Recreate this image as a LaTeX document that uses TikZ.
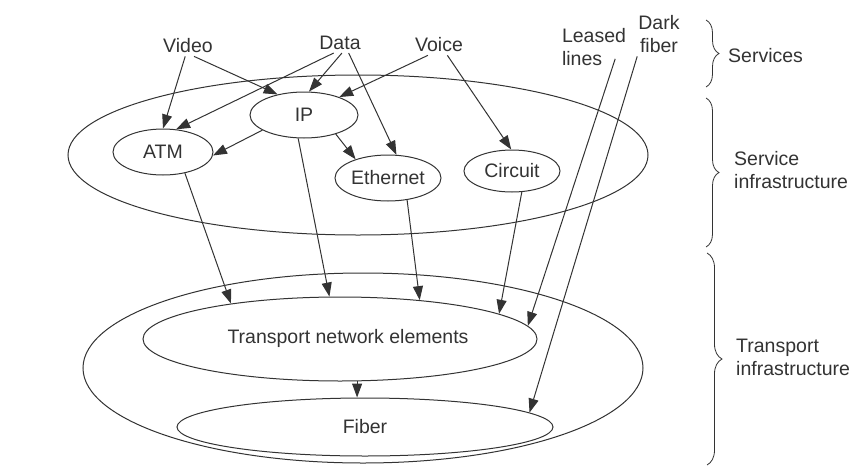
\documentclass[tikz,border=0pt]{standalone}
\usepackage{fontspec}
\setmainfont{Liberation Sans}
\usetikzlibrary{arrows.meta,shapes.geometric,decorations.pathreplacing}
\definecolor{ink}{HTML}{333333}
\begin{document}
\begin{tikzpicture}[x=1pt,y=-1pt,
  every node/.style={font=\fontsize{19.5}{23}\selectfont, text=ink, inner sep=3pt},
  oval/.style={draw=ink, line width=1pt, ellipse, inner sep=0pt},
  arr/.style={draw=ink, line width=1pt, -{Triangle[length=14pt,width=10pt]}},
  brc/.style={draw=ink, line width=0.8pt, decorate, decoration={brace, amplitude=#1}},
  brc/.default=13pt,
]
\useasboundingbox[fill=white] (0,0) rectangle (860,469);

% layer outlines
\node[oval, minimum width=580pt, minimum height=160pt] (srvinf) at (358,155) {};
\node[oval, minimum width=560pt, minimum height=190pt] (trinf) at (363,368) {};

% service infrastructure elements
\node[oval, minimum width=108pt, minimum height=46pt] (ip) at (304,115) {IP};
\node[oval, minimum width=100pt, minimum height=46pt] (atm) at (163,152) {ATM};
\node[oval, minimum width=106pt, minimum height=46pt] (eth) at (388,178) {Ethernet};
\node[oval, minimum width=96pt, minimum height=42pt] (circ) at (512,171) {Circuit};

% transport elements
\node[oval, minimum width=394pt, minimum height=84pt] (tne) at (340,339) {};
\node (tnetext) at (348,338) {Transport network elements};
\node[oval, minimum width=376pt, minimum height=58pt] (fiber) at (365,427) {Fiber};

% services
\node (video) at (188,46) {Video};
\node (data) at (340,43) {Data};
\node (voice) at (439,45) {Voice};
\node[align=left] (leased) at (594,47) {Leased\\lines};
\node[align=center] (dark) at (659,34.5) {Dark\\fiber};

% layer labels
\node[anchor=west] (lsrv) at (725,56) {Services};
\node[anchor=west, align=left] (lsinf) at (731,170) {Service\\infrastructure};
\node[anchor=west, align=left] (ltinf) at (733,357) {Transport\\infrastructure};

% braces
\draw[brc] (706,20) -- (706,87);
\draw[brc] (706,98) -- (706,247);
\draw[brc=15pt] (707,253) -- (707,465);

% connectors
\draw[arr] (video.-105) -- (atm.90);
\draw[arr] (video.-60) -- (ip.142);
\draw[arr] (data.-122) -- (atm.60);
\draw[arr] (data.-79) -- (ip.78);
\draw[arr] (data.-49) -- (eth.70);
\draw[arr] (voice.-137) -- (ip.27);
\draw[arr] (voice.-51) -- (circ.92);
\draw[arr] (ip.200) -- (atm.-4);
\draw[arr] (ip.-31) -- (eth.150);
\draw[arr] (ip.-104) -- (tne.104);
\draw[arr] (atm.-44) -- (tne.162);
\draw[arr] (eth.-49) -- (tne.26);
\draw[arr] (circ.-65) -- (tne.9);
\draw[arr] ([xshift=-14pt,yshift=10pt]leased.south east) -- (tne.4);
\draw[arr] ([xshift=2pt]dark.south west) -- (fiber.5);
\draw[arr] (tne.-68) -- (tne.-68 |- fiber.north);
\end{tikzpicture}
\end{document}
